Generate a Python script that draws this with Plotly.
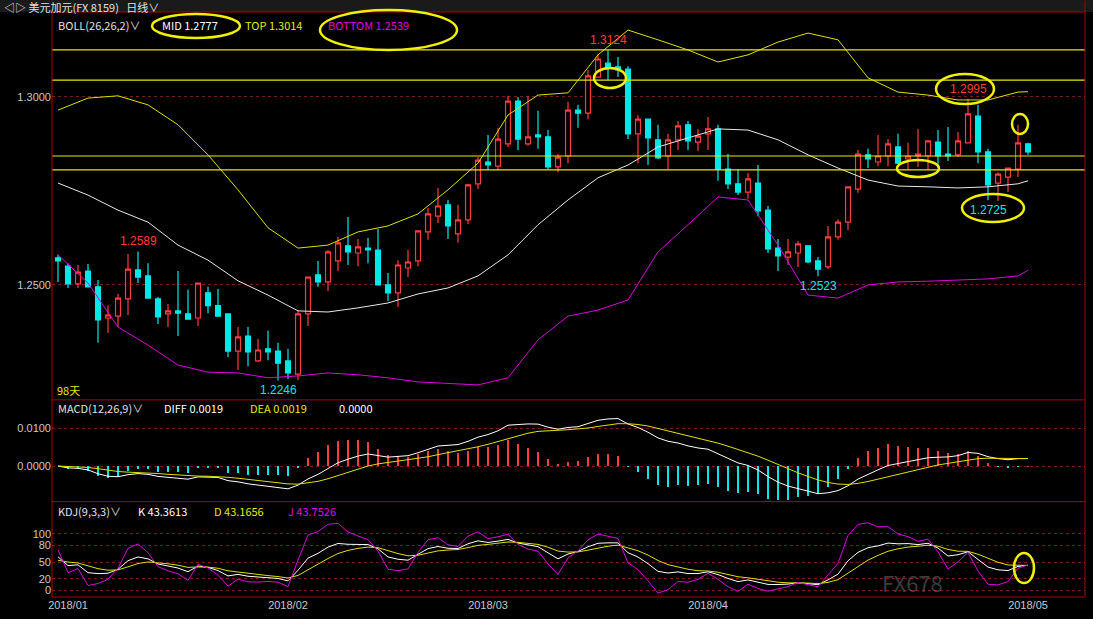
import numpy as np
import pandas as pd
import plotly.graph_objects as go

# ---- data ----
opens = [1.2572,1.2550,1.2503,1.2537,1.2495,1.2412,1.2417,1.2463,1.2540,1.2524,1.2463,1.2423,1.2431,1.2423,1.2412,1.2479,1.2445,1.2423,1.2324,1.2364,
         1.2298,1.2330,1.2324,1.2298,1.2263,1.2423,1.2527,1.2508,1.2564,1.2604,1.2585,1.2598,1.2593,1.2500,1.2479,1.2545,1.2564,1.2641,1.2683,1.2713,
         1.2636,1.2673,1.2769,1.2827,1.2816,1.2875,1.2989,1.2875,1.2899,1.2894,1.2814,1.2843,1.2965,1.2957,1.3053,1.3090,1.3080,1.3074,1.2902,1.2941,
         1.2886,1.2843,1.2886,1.2926,1.2880,1.2902,1.2915,1.2808,1.2769,1.2747,1.2771,1.2699,1.2598,1.2574,1.2585,1.2604,1.2564,1.2548,1.2628,1.2667,
         1.2755,1.2846,1.2827,1.2843,1.2867,1.2835,1.2843,1.2843,1.2880,1.2848,1.2846,1.2878,1.2949,1.2854,1.2771,1.2787,1.2808,1.2875]
highs = [1.2580,1.2558,1.2553,1.2556,1.2513,1.2445,1.2476,1.2582,1.2589,1.2558,1.2468,1.2449,1.2537,1.2487,1.2505,1.2495,1.2489,1.2423,1.2388,1.2388,
         1.2356,1.2378,1.2346,1.2330,1.2433,1.2521,1.2564,1.2593,1.2628,1.2681,1.2622,1.2625,1.2649,1.2532,1.2566,1.2593,1.2644,1.2705,1.2758,1.2726,
         1.2713,1.2769,1.2840,1.2899,1.2918,1.3003,1.3000,1.3003,1.2963,1.2912,1.2848,1.2987,1.2979,1.3072,1.3115,1.3124,1.3106,1.3082,1.2952,1.2941,
         1.2926,1.2902,1.2936,1.2936,1.2915,1.2947,1.2926,1.2848,1.2808,1.2798,1.2819,1.2710,1.2622,1.2622,1.2617,1.2604,1.2574,1.2657,1.2675,1.2761,
         1.2859,1.2862,1.2899,1.2888,1.2902,1.2878,1.2915,1.2883,1.2912,1.2920,1.2907,1.2995,1.2979,1.2862,1.2800,1.2811,1.2926,1.2878]
lows = [1.2508,1.2492,1.2492,1.2495,1.2346,1.2372,1.2388,1.2420,1.2505,1.2463,1.2396,1.2388,1.2364,1.2409,1.2391,1.2425,1.2417,1.2308,1.2274,1.2284,
        1.2295,1.2300,1.2246,1.2250,1.2247,1.2391,1.2495,1.2484,1.2537,1.2553,1.2550,1.2558,1.2500,1.2457,1.2441,1.2521,1.2550,1.2620,1.2665,1.2622,
        1.2612,1.2662,1.2755,1.2806,1.2806,1.2867,1.2859,1.2870,1.2862,1.2808,1.2800,1.2824,1.2918,1.2941,1.3053,1.3045,1.3053,1.2888,1.2824,1.2819,
        1.2835,1.2808,1.2859,1.2859,1.2856,1.2859,1.2777,1.2755,1.2739,1.2729,1.2683,1.2585,1.2537,1.2553,1.2548,1.2558,1.2523,1.2542,1.2620,1.2646,
        1.2745,1.2811,1.2816,1.2816,1.2822,1.2806,1.2814,1.2806,1.2811,1.2830,1.2840,1.2878,1.2824,1.2725,1.2723,1.2747,1.2787,1.2846]
closes = [1.2564,1.2503,1.2534,1.2495,1.2407,1.2420,1.2465,1.2542,1.2521,1.2465,1.2415,1.2431,1.2425,1.2409,1.2505,1.2445,1.2417,1.2324,1.2362,1.2322,
          1.2327,1.2322,1.2292,1.2266,1.2423,1.2521,1.2508,1.2588,1.2612,1.2588,1.2601,1.2593,1.2500,1.2479,1.2553,1.2561,1.2644,1.2689,1.2710,1.2657,
          1.2673,1.2766,1.2832,1.2819,1.2888,1.2989,1.2888,1.2894,1.2894,1.2814,1.2840,1.2965,1.2957,1.3056,1.3101,1.3077,1.3072,1.2902,1.2941,1.2891,
          1.2838,1.2886,1.2923,1.2883,1.2896,1.2915,1.2808,1.2769,1.2747,1.2782,1.2697,1.2596,1.2577,1.2588,1.2609,1.2561,1.2542,1.2628,1.2667,1.2761,
          1.2848,1.2835,1.2843,1.2875,1.2824,1.2843,1.2848,1.2883,1.2843,1.2843,1.2883,1.2955,1.2854,1.2766,1.2795,1.2811,1.2878,1.2854]

band_idx = [0,3,6,9,12,15,18,21,24,27,30,33,36,39,42,45,48,51,54,57,60,63,66,69,72,75,78,81,84,87,90,93,96,97]
boll_top = [1.2965,1.2997,1.3003,1.2979,1.2926,1.2846,1.2753,1.2652,1.2598,1.2606,1.2641,1.2657,1.2689,1.2753,1.2824,1.2952,1.3005,
            1.3011,1.3112,1.3178,1.3152,1.3125,1.3093,1.3112,1.3146,1.3170,1.3152,1.3051,1.3013,1.3005,1.2992,1.2992,1.3013,1.3014]
boll_mid = [1.2771,1.2739,1.2699,1.2667,1.2606,1.2566,1.2511,1.2473,1.2431,1.2428,1.2439,1.2452,1.2476,1.2492,1.2524,1.2580,1.2660,
            1.2726,1.2785,1.2819,1.2867,1.2891,1.2915,1.2912,1.2886,1.2846,1.2811,1.2779,1.2763,1.2761,1.2758,1.2761,1.2769,1.2777]
boll_bot = [1.2580,1.2505,1.2388,1.2340,1.2287,1.2268,1.2266,1.2253,1.2258,1.2266,1.2261,1.2253,1.2242,1.2237,1.2234,1.2253,1.2354,
            1.2417,1.2433,1.2460,1.2588,1.2660,1.2734,1.2726,1.2606,1.2473,1.2465,1.2500,1.2508,1.2510,1.2513,1.2516,1.2524,1.2539]

hlines = [1.3125, 1.3045, 1.2843, 1.2806]
tick_idx = [1, 23, 43, 65, 97]
tick_text = ["2018/01", "2018/02", "2018/03", "2018/04", "2018/05"]
label_idx = [55, 8, 22, 76, 91, 93]
label_kind = ["high", "high", "low", "low", "high", "low"]

x = list(range(len(closes)))
c = pd.Series(closes)
ema12 = c.ewm(span=12, adjust=False).mean()
ema26 = c.ewm(span=26, adjust=False).mean()
diff = ema12 - ema26
dea = diff.ewm(span=9, adjust=False).mean()
hist = 2 * (diff - dea)
h = pd.Series(highs); l = pd.Series(lows)
hh = h.rolling(9, min_periods=1).max(); ll = l.rolling(9, min_periods=1).min()
rsv = ((c - ll) / (hh - ll) * 100).fillna(50)
K = []; D = []; k = 50; d = 50
for r in rsv:
    k = 2/3*k + r/3; d = 2/3*d + k/3
    K.append(k); D.append(d)
K = np.array(K); D = np.array(D); J = 3*K - 2*D

RED = "#ff3b3b"; CYAN = "#00e8e8"; BORDER = "#b00000"; GRID = "#7a1a1a"
fig = go.Figure()
fig.add_trace(go.Candlestick(x=x, open=opens, high=highs, low=lows, close=closes,
    increasing=dict(line=dict(color=RED, width=1.2), fillcolor="black"),
    decreasing=dict(line=dict(color=CYAN, width=1.2), fillcolor=CYAN),
    whiskerwidth=0, xaxis="x", yaxis="y", hoverinfo="skip"))
fig.add_trace(go.Scatter(x=band_idx, y=boll_top, mode="lines", line=dict(color="#e0e000", width=1), xaxis="x", yaxis="y"))
fig.add_trace(go.Scatter(x=band_idx, y=boll_mid, mode="lines", line=dict(color="#e8e8e8", width=1), xaxis="x", yaxis="y"))
fig.add_trace(go.Scatter(x=band_idx, y=boll_bot, mode="lines", line=dict(color="#e000e0", width=1), xaxis="x", yaxis="y"))

hcol = [RED if v >= 0 else CYAN for v in hist]
fig.add_trace(go.Bar(x=x, y=hist, marker=dict(color=hcol, line=dict(width=0)), width=0.18, xaxis="x2", yaxis="y2"))
fig.add_trace(go.Scatter(x=x, y=diff, mode="lines", line=dict(color="white", width=1), xaxis="x2", yaxis="y2"))
fig.add_trace(go.Scatter(x=x, y=dea, mode="lines", line=dict(color="#e0e000", width=1), xaxis="x2", yaxis="y2"))
fig.add_trace(go.Scatter(x=x, y=K, mode="lines", line=dict(color="white", width=1), xaxis="x3", yaxis="y3"))
fig.add_trace(go.Scatter(x=x, y=D, mode="lines", line=dict(color="#e0e000", width=1), xaxis="x3", yaxis="y3"))
fig.add_trace(go.Scatter(x=x, y=J, mode="lines", line=dict(color="#e000e0", width=1), xaxis="x3", yaxis="y3"))

xr = [-0.6, 102.7]
ax = dict(range=xr, showgrid=False, zeroline=False, showline=False, ticks="", rangeslider=dict(visible=False))
tf = dict(color="#c8c8c8", size=11, family="Liberation Sans")
fig.update_layout(
    width=1093, height=619, paper_bgcolor="black", plot_bgcolor="black", showlegend=False,
    margin=dict(l=52, r=8, t=12, b=22), bargap=0,
    xaxis=dict(**ax, domain=[0, 1], anchor="y", showticklabels=False),
    xaxis2=dict(**ax, domain=[0, 1], anchor="y2", showticklabels=False, matches="x"),
    xaxis3=dict(**ax, domain=[0, 1], anchor="y3", matches="x", tickvals=tick_idx, ticktext=tick_text, tickfont=tf),
    yaxis=dict(domain=[0.340, 1], range=[1.2199, 1.3226], tickvals=[1.25, 1.30], ticktext=["1.2500", "1.3000"],
               tickfont=tf, showgrid=True, gridcolor=GRID, griddash="dot", zeroline=False),
    yaxis2=dict(domain=[0.166, 0.337], range=[-0.0089, 0.0174], tickvals=[0, 0.01], ticktext=["0.0000", "0.0100"],
                tickfont=tf, showgrid=True, gridcolor=GRID, griddash="dot", zeroline=False),
    yaxis3=dict(domain=[0, 0.162], range=[-12, 156], tickvals=[0, 20, 50, 80, 100], ticktext=["0", "20", "50", "80", "100"],
                tickfont=tf, showgrid=True, gridcolor=GRID, griddash="dot", zeroline=False),
)
for v in hlines:
    fig.add_shape(type="line", xref="paper", x0=0, x1=1, yref="y", y0=v, y1=v, line=dict(color="#e8e800", width=1.2))

for y0 in [0.337, 0.163, 1.0]:
    fig.add_shape(type="line", xref="paper", yref="paper", x0=0, x1=1, y0=y0, y1=y0, line=dict(color=BORDER, width=1))
fig.add_shape(type="line", xref="paper", yref="paper", x0=0, x1=0, y0=0, y1=1, line=dict(color=BORDER, width=1))
fig.add_shape(type="line", xref="paper", yref="paper", x0=1, x1=1, y0=0, y1=1.02, line=dict(color=BORDER, width=1))
fig.add_shape(type="line", xref="paper", yref="paper", x0=0, x1=1, y0=0, y1=0, line=dict(color=BORDER, width=1))

for i, kind in zip(label_idx, label_kind):
    if kind == "high":
        fig.add_annotation(x=i, y=highs[i], text=f"{highs[i]:.4f}", showarrow=False, yshift=10,
                           font=dict(color=RED, size=12, family="Liberation Sans"), xref="x", yref="y")
    else:
        fig.add_annotation(x=i, y=lows[i], text=f"{lows[i]:.4f}", showarrow=False, yshift=-10,
                           font=dict(color=CYAN, size=12, family="Liberation Sans"), xref="x", yref="y")

def ptxt(px, py, text, color, size=11, anchor="left"):
    fig.add_annotation(xref="paper", yref="paper", x=(px-52)/1033, y=(597-py)/585, text=text, showarrow=False,
                       xanchor=anchor, yanchor="middle", font=dict(color=color, size=size, family="Noto Sans CJK SC"))

fig.add_shape(type="rect", xref="paper", yref="paper", x0=-0.06, x1=1.01, y0=1.0, y1=1.03, fillcolor="#1a1a1a", line=dict(width=0), layer="below")
ptxt(2, 7, "◁▷ 美元加元(FX 8159)   日线∨", "#e0e0e0", 11)
ptxt(56, 25, "BOLL(26,26,2)∨", "#e0e0e0")
ptxt(160, 25, "MID 1.2777", "#ffffff")
ptxt(243, 25, "TOP 1.3014", "#e8e800")
ptxt(326, 25, "BOTTOM 1.2539", "#e000e0")
ptxt(55, 390, "98天", "#e8e800")
ptxt(56, 408, "MACD(12,26,9)∨", "#e0e0e0")
ptxt(162, 408, "DIFF 0.0019", "#ffffff")
ptxt(248, 408, "DEA 0.0019", "#e8e800")
ptxt(337, 408, "0.0000", "#ffffff")
ptxt(56, 511, "KDJ(9,3,3)∨", "#e0e0e0")
ptxt(136, 511, "K 43.3613", "#ffffff")
ptxt(212, 511, "D 43.1656", "#e8e800")
ptxt(286, 511, "J 43.7526", "#e000e0")
ptxt(880, 582, "FX678", "rgba(120,120,120,0.5)", 22)

ellipses = [(152, 14, 240, 38), (320, 10, 457, 50), (594, 68, 626, 88), (936, 74, 994, 104),
            (962, 194, 1024, 222), (1012, 114, 1028, 134), (897, 160, 939, 177), (1014, 553, 1034, 583)]
for x0, y0, x1, y1 in ellipses:
    fig.add_shape(type="circle", xref="paper", yref="paper", x0=(x0-52)/1033, x1=(x1-52)/1033,
                  y0=(597-y1)/585, y1=(597-y0)/585, line=dict(color="#f0f000", width=2.5))

fig.write_html("out.html", config={"displayModeBar": False},
               post_script="document.body.style.margin='0';document.body.style.background='black';")
